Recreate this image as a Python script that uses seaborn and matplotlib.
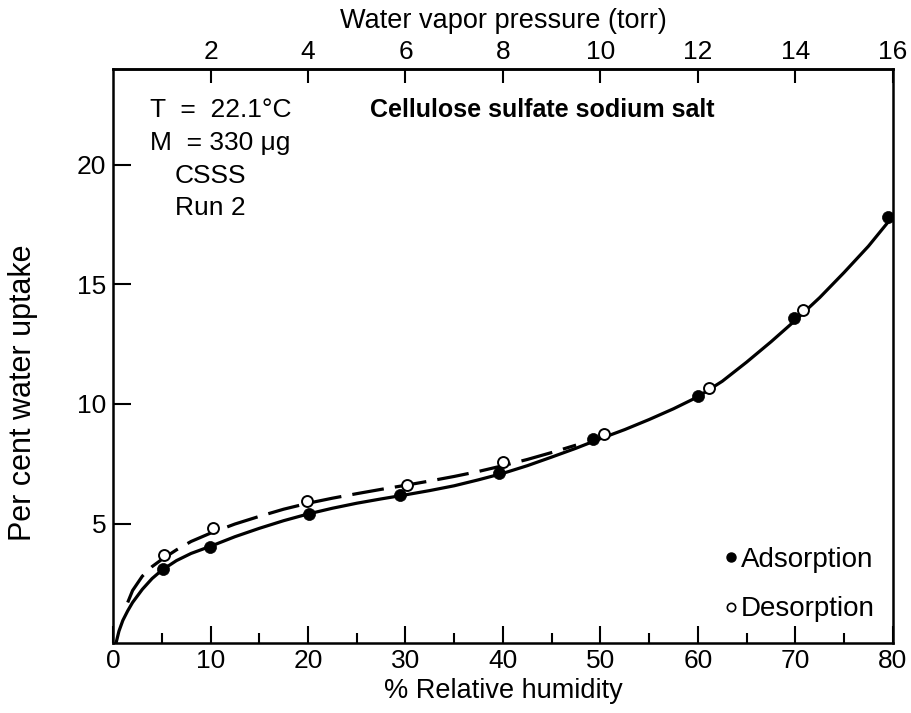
import numpy as np
import pandas as pd
import matplotlib
matplotlib.use("Agg")
import matplotlib.pyplot as plt
import seaborn as sns
from matplotlib.lines import Line2D
from matplotlib.ticker import MultipleLocator

# ---- data ----
ads_rh = [5.1, 9.95, 20.1, 29.4, 39.6, 49.2, 60.0, 69.9, 79.5]
ads_up = [3.08, 4.0, 5.42, 6.2, 7.13, 8.54, 10.33, 13.6, 17.8]

des_rh = [5.2, 10.2, 19.9, 30.2, 40.0, 50.4, 61.1, 70.8]
des_up = [3.7, 4.8, 5.95, 6.6, 7.58, 8.75, 10.65, 13.95]

# fitted curves
ads_curve_rh = [0.3, 0.6, 1.0, 1.5, 2.0, 3.0, 4.0, 5.0, 6.5, 8.0, 10, 12.5, 15, 17.5, 20,
                22.5, 25, 27.5, 30, 32.5, 35, 37.5, 40, 42.5, 45, 47.5, 50, 52.5, 55,
                57.5, 60, 62.5, 65, 67.5, 70, 72.5, 75, 77.5, 79.5]
ads_curve_up = [0.0, 0.5, 0.95, 1.35, 1.7, 2.25, 2.7, 3.05, 3.45, 3.75, 4.05, 4.45, 4.8,
                5.12, 5.4, 5.64, 5.85, 6.03, 6.2, 6.38, 6.58, 6.83, 7.1, 7.42, 7.78, 8.15,
                8.55, 8.93, 9.35, 9.8, 10.3, 10.95, 11.75, 12.6, 13.5, 14.45, 15.5,
                16.6, 17.6]

des_curve_rh = [1.5, 2.0, 3.0, 4.0, 5.0, 6.5, 8.0, 10, 12.5, 15, 17.5, 20, 22.5, 25, 27.5,
                30, 32.5, 35, 37.5, 40, 42.5, 45, 47.5]
des_curve_up = [1.7, 2.2, 2.8, 3.2, 3.5, 3.9, 4.25, 4.6, 4.98, 5.3, 5.6, 5.85, 6.06, 6.25,
                6.43, 6.6, 6.78, 6.97, 7.18, 7.42, 7.68, 7.97, 8.28]

x_ticks = [0, 10, 20, 30, 40, 50, 60, 70, 80]
y_ticks = [5, 10, 15, 20]
torr_ticks = [2, 4, 6, 8, 10, 12, 14, 16]

info_lines = ["T  =  22.1\u00b0C", "M  = 330 \u03bcg", "CSSS", "Run 2"]
title = "Cellulose sulfate sodium salt"

# ---- style ----
sns.set_theme(style="ticks")
plt.rcParams["font.family"] = ["Liberation Sans", "DejaVu Sans"]
plt.rcParams["text.color"] = "black"
plt.rcParams["axes.labelcolor"] = "black"
plt.rcParams["xtick.color"] = "black"
plt.rcParams["ytick.color"] = "black"
plt.rcParams["axes.edgecolor"] = "black"

fig = plt.figure(figsize=(9.12, 7.13), dpi=100)
ax = fig.add_axes([0.124, 0.098, 0.855, 0.805])

ads_c = pd.DataFrame({"rh": ads_curve_rh, "up": ads_curve_up})
des_c = pd.DataFrame({"rh": des_curve_rh, "up": des_curve_up})
sns.lineplot(data=ads_c, x="rh", y="up", ax=ax, color="black", lw=2.3, sort=False)
sns.lineplot(data=des_c, x="rh", y="up", ax=ax, color="black", lw=2.3, sort=False)
ax.lines[-1].set_dashes([10, 3.5])

ads = pd.DataFrame({"rh": ads_rh, "up": ads_up})
des = pd.DataFrame({"rh": des_rh, "up": des_up})
sns.scatterplot(data=ads, x="rh", y="up", ax=ax, color="black", s=75,
                edgecolor="black", linewidth=0.5, zorder=5)
sns.scatterplot(data=des, x="rh", y="up", ax=ax, facecolor="white", s=62,
                edgecolor="black", linewidth=1.4, zorder=5)

ax.set_xlim(0, 80)
ax.set_ylim(0, 24)
ax.set_xticks(x_ticks)
ax.set_xticklabels([str(v) for v in x_ticks])
ax.xaxis.set_minor_locator(MultipleLocator(5))
ax.set_yticks(y_ticks)
ax.set_yticklabels([str(v) for v in y_ticks])

for s in ax.spines.values():
    s.set_linewidth(1.8)
    s.set_color("black")
    s.set_visible(True)

ax.tick_params(axis="x", which="major", direction="in", length=12, width=1.5,
               labelsize=19, pad=4, colors="black")
ax.tick_params(axis="x", which="minor", direction="in", length=7, width=1.5,
               colors="black")
ax.tick_params(axis="y", which="major", direction="in", length=13, width=1.5,
               labelsize=19, pad=5, colors="black")

ax.set_xlabel("% Relative humidity", fontsize=19.5, labelpad=4, color="black")
ax.set_ylabel("Per cent water uptake", fontsize=22, va="center", color="black")
ax.yaxis.set_label_coords(-0.116, 0.437)

sec = ax.secondary_xaxis("top", functions=(lambda x: x / 5.0, lambda t: t * 5.0))
sec.set_xticks(torr_ticks)
sec.set_xticklabels([str(v) for v in torr_ticks])
sec.tick_params(axis="x", direction="in", length=10, width=1.5, labelsize=19, pad=4,
                colors="black")
sec.set_xlabel("Water vapor pressure (torr)", fontsize=19.5, labelpad=8, color="black")
sec.spines["top"].set_linewidth(1.8)
sec.spines["top"].set_color("black")

# info text
xs = [0.047, 0.047, 0.079, 0.079]
ys = [0.929, 0.871, 0.814, 0.758]
for t, xx, yy in zip(info_lines, xs, ys):
    ax.text(xx, yy, t, transform=ax.transAxes, fontsize=19, va="center", ha="left",
            color="black")
ax.text(0.33, 0.929, title, transform=ax.transAxes, fontsize=18, color="black",
        fontweight="bold", va="center", ha="left")

handles = [
    Line2D([], [], ls="none", marker="o", color="black", markersize=6.5),
    Line2D([], [], ls="none", marker="o", markerfacecolor="white",
           markeredgecolor="black", markersize=6, markeredgewidth=1.2),
]
leg = ax.legend(handles, ["Adsorption", "Desorption"], loc="lower right",
                frameon=False, fontsize=20, handlelength=0.4, handletextpad=0.15,
                labelspacing=0.85, borderaxespad=0.1, bbox_to_anchor=(0.995, 0.012),
                labelcolor="black")

fig.savefig("out.png", dpi=100)
